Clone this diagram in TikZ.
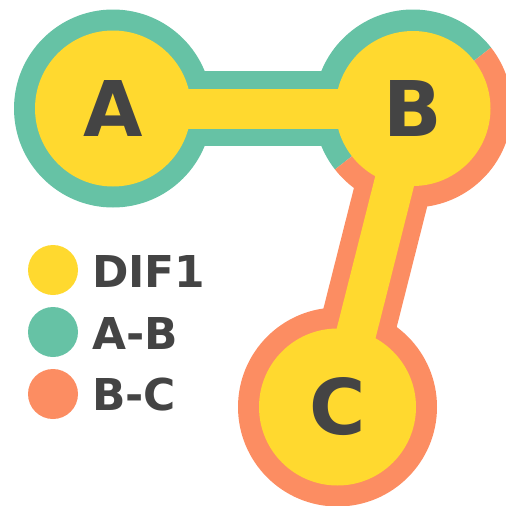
\documentclass[tikz,border=0pt]{standalone}
\usepackage{fontspec}
\setmainfont{DejaVu Sans}
\definecolor{cyel}{HTML}{FFD92F}
\definecolor{cgrn}{HTML}{66C2A5}
\definecolor{corg}{HTML}{FC8D62}
\definecolor{ctxt}{HTML}{444444}
\tikzset{
  lbl/.style={inner sep=0pt, text=ctxt, font=\bfseries\fontsize{76.8}{80}\selectfont},
  leg/.style={inner sep=0pt, text=ctxt, anchor=west, font=\bfseries\fontsize{43.9}{46}\selectfont},
  legdot/.style={circle, inner sep=0pt, minimum size=50pt}
}
\begin{document}
\begin{tikzpicture}[x=1pt,y=-1pt]
\useasboundingbox (0,0) rectangle (506,506);
\clip (0,0) rectangle (506,506);
\coordinate (A) at (113,108.5);
\coordinate (B) at (413,108.5);
\coordinate (C) at (337.5,407);
% outer bands
\draw[cgrn, line width=75pt] (A) -- (B);
\draw[corg, line width=75.6pt] (B) -- (C);
\fill[cgrn] (A) circle (99);
\fill[corg] (C) circle (99.5);
\fill[cgrn] (B) -- ++(-38:99) arc[start angle=-38, end angle=-218, radius=99] -- cycle;
\fill[corg] (B) -- ++(142:99) arc[start angle=142, end angle=-38, radius=99] -- cycle;
% inner
\draw[cyel, line width=40pt] (A) -- (B);
\draw[cyel, line width=40pt] (B) -- (C);
\fill[cyel] (A) circle (78);
\fill[cyel] (B) circle (77.5);
\fill[cyel] (C) circle (78.5);
\node[lbl] (la) at (A) {A};
\node[lbl] (lb) at (B) {B};
\node[lbl] (lc) at (C) {C};
% legend
\node[legdot, fill=cyel] (d1) at (53,270) {};
\node[legdot, fill=cgrn] (d2) at (53,332) {};
\node[legdot, fill=corg] (d3) at (53,394) {};
\node[leg] (t1) at (92,271) {DIF1};
\node[leg] (t2) at (92,333) {A-B};
\node[leg] (t3) at (92,395) {B-C};
\end{tikzpicture}
\end{document}
